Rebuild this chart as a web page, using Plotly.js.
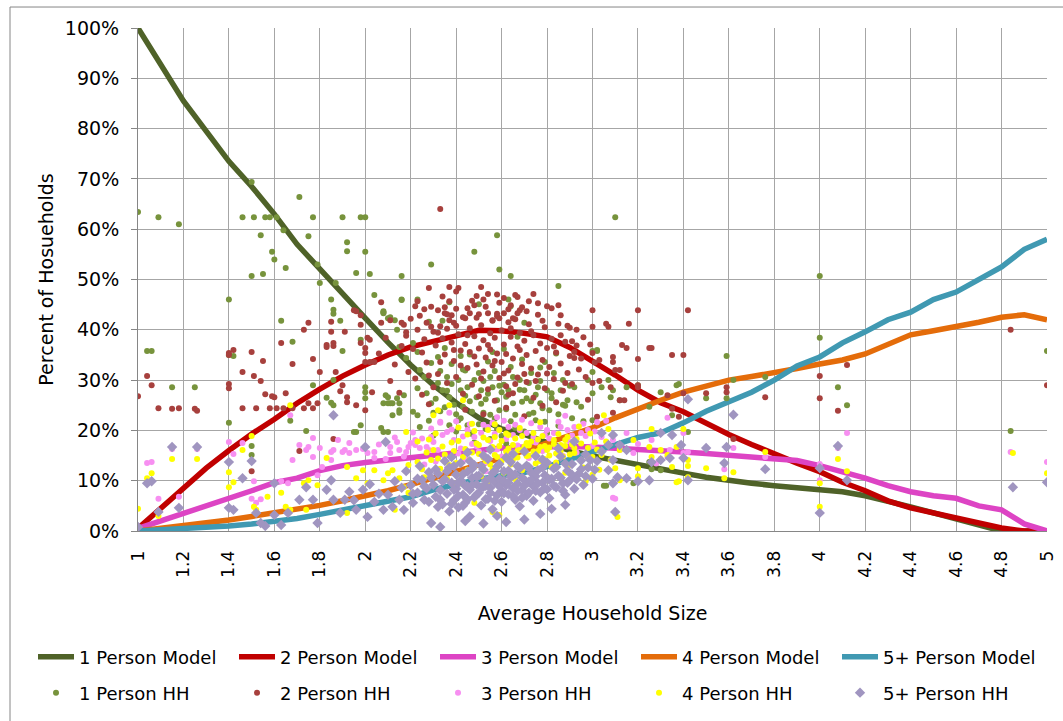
<!DOCTYPE html>
<html>
<head>
<meta charset="utf-8">
<script src="https://cdn.plot.ly/plotly-3.0.1.min.js"></script>
<style>html,body{margin:0;padding:0;background:#fff;}#chart{width:1063px;height:721px;}</style>
</head>
<body>
<div id="chart"></div>
<script>
// ---- Model curves (percent of households by average household size) ----
const modelX = [1.0,1.1,1.2,1.3,1.4,1.5,1.6,1.7,1.8,1.9,2.0,2.1,2.2,2.3,2.4,2.5,2.6,2.7,2.8,2.9,3.0,3.1,3.2,3.3,3.4,3.5,3.6,3.7,3.8,3.9,4.0,4.1,4.2,4.3,4.4,4.5,4.6,4.7,4.8,4.9,5.0];
const model1 = [100,92.5,85.5,79.5,73.5,68.5,63,57,52,47.3,42.3,37.5,33,29,25.5,22.5,20.3,19.2,17.5,16,14.9,14,13.3,12.4,11.5,10.7,10,9.5,9,8.6,8.2,7.8,7,6,4.8,3.6,2.4,1.2,0,0,0];
const model2 = [0.5,4.5,8.5,12.5,16,19.3,22.2,25.4,28.2,30.8,33,35,36.6,37.6,38.8,39.9,39.8,39.3,38.6,36.5,33.8,31,28,25.5,23.7,21.3,19.2,17.2,15.3,13.5,11.8,9.7,8,6,4.6,3.6,2.8,1.8,0.6,0,0];
const model3 = [0.5,2,3.3,5,6.5,8,9.6,10.5,12,13,13.6,14.1,14.5,15.1,15.6,16.1,16.5,16.7,16.8,16.8,16.7,16.5,16.3,16.0,15.7,15.4,15.1,14.8,14.5,14,13,11.8,10.5,9,7.8,7,6.5,5,4.2,1.4,0];
const model4 = [0,0.5,1.0,1.6,2.2,2.9,3.6,4.3,5.1,6.0,6.9,8.0,9.2,10.5,11.8,13,14.5,16,17.5,19,20.5,22.5,24.3,26,27.6,28.8,30,30.7,31.4,32.3,33.2,34,35.2,37,39,39.8,40.6,41.5,42.5,43,42];
const model5 = [0,0.2,0.4,0.7,1.0,1.4,1.9,2.5,3.3,4.2,5.0,5.9,6.8,8.2,9.3,10.3,11.0,11.6,12.8,14.2,15.8,17.2,18.6,19.5,21.5,23.8,25.6,27.6,30,32.8,34.6,37.4,39.6,42,43.5,46,47.5,50,52.5,56,58];

// ---- Observed household shares: [average household size, percent] ----
const hh1 = [[1.0,63.4],[1.09,62.4],[1.18,61],[1.46,62.4],[1.50,69.4],[1.51,62.4],[1.54,58.8],[1.56,62.4],[1.58,62.4],[1.61,62.4],[1.64,59.8],[1.71,66.4],[1.75,58.6],[1.77,62.4],[1.90,62.4],[1.92,57.4],[1.98,62.4],[2.0,62.4],
[1.92,55.6],[1.59,55.5],[1.60,54],[2.0,55.5],[1.65,52.3],[1.50,50.7],[1.55,51.1],[1.79,53],[1.96,51.3],[2.02,51.1],[1.80,49.3],[1.87,49.3],[2.04,46.9],[1.40,46],[1.85,46],[1.86,44],[1.86,43.2],[1.63,41.8],[1.89,41.8],[1.68,37.6],[1.04,35.8],[1.06,35.8],[1.40,35],[1.42,34.8],[1.90,35.8],[1.98,38],[1.15,28.6],[1.25,28.6],[1.77,29],[1.86,30],[1.83,26.5],[1.85,25.5],[1.86,25],[2.0,28.6],[2.0,27.6],[2.0,26.4],
[3.10,62.4],[2.58,58.8],[2.48,55.5],[2.29,53],[2.59,52],[2.64,50.7],[2.16,50.7],[2.85,48.7],[2.08,43.7],[2.08,43.3],[2.10,42.3],[2.16,46],[2.23,46],[2.28,41.6],[2.34,41.8],[2.37,45.5],[2.50,45.1],[2.63,46],[2.64,44.7],[2.70,41.4],[3.0,35.8],[3.02,35.8],[3.0,31.6],[3.30,27.6],[3.38,29.2],[3.20,29],
[4.0,50.7],[4.0,38.4],[3.59,34.8],[3.35,23],[3.50,26.4],[3.59,26.4],[3.62,30],[3.76,30.6],[4.08,28.6],[4.12,25],[3.42,19.7],[4.84,19.9],[5.0,35.8],[3.05,9],[3.26,12.3],
[1.40,21.5],[1.50,15.1],[1.50,16.9],[1.67,21.9],[1.74,19.9],[1.98,21],[1.95,19.7],[1.96,19.7],[2.08,19.7],[2.10,19.7],[2.12,23],[2.15,24],[2.10,25.4],
[2.07,20.5],[2.08,25.4],[2.11,25.4],[2.15,25.4],[2.14,26.4],[2.23,28.4],[2.09,27],[2.21,23.7],[2.23,23],[2.24,20.7],[2.30,19],[2.37,21],[2.41,22],[3.0,22],[3.18,9.5],[3.30,12.1],[3.25,13.7],[3.06,9],[3.37,29],[3.25,24.7],[3.42,10.7],
[2.08,43.5],[2.11,42.5],[2.13,41.9],[2.16,45.9],[2.14,40],[2.15,36.6],[2.18,34.4],[2.21,37.4],[2.23,35.6],[2.24,32],[2.26,30.6],[2.29,33.4],[2.32,34.6],[2.32,29.4],[2.34,28],[2.36,30.6],[2.37,26.6],[2.41,30],[2.42,28],[2.43,24.7],[2.45,28.6],[2.48,30],[2.49,26.6],[2.51,28],[2.52,23.5],[2.55,30.6],[2.56,28.6],[2.58,26],[2.59,24],[2.63,28],[2.65,30.6],[2.65,25.4],[2.67,38.6],[2.68,30],[2.70,28],[2.71,26.4],[2.73,31.4],[2.74,23.5],[2.76,28.6],[2.77,25.4],[2.80,28],[2.81,24],[2.83,31.4],[2.86,28],[2.87,30],[2.89,26],[2.92,28.6],[2.95,24.7],[2.98,30],[3.0,27.4],[3.02,36],[3.04,28.6],[3.07,30],[3.08,26.6],[3.09,28],[3.12,26],[3.15,28.6],[2.10,26.6],[2.12,25.4],[2.15,23.5],[2.17,27],[2.29,25.4],[2.30,23.5],
[2.31,26.3],[2.33,23.8],[2.36,27.9],[2.39,25.1],[2.42,22.4],[2.44,26.9],[2.47,23.7],[2.50,21.2],[2.53,26.2],[2.55,23.1],[2.60,27.6],[2.62,24.2],[2.64,21.8],[2.69,25.7],[2.72,23.2],[2.75,27.1],[2.78,24.4],[2.79,21.7],[2.82,26.4],[2.85,23.2],[2.88,24.9],[2.91,22.4],[2.52,29.8],[2.61,29.1],[2.40,19.8],[2.47,19.3],[2.58,20.3],[2.66,20.5],[2.38,33.2],[2.46,35.1],[2.54,33.7],[2.61,36.2],[2.69,34.1],[2.77,32.5],[2.84,35.3],[2.57,31.8],[2.44,31.9],[2.72,29.4],
[2.27,27.4],[2.28,21.9],[2.33,31.8],[2.35,24.6],[2.38,29.2],[2.40,23.2],[2.43,32.1],[2.45,21.0],[2.46,25.8],[2.50,31.4],[2.51,25.3],[2.53,20.3],[2.54,27.3],[2.57,22.3],[2.59,28.9],[2.60,18.9],[2.62,26.7],[2.64,32.6],[2.66,23.1],[2.68,28.1],[2.70,19.8],[2.73,25.8],[2.75,22.0],[2.77,29.8],[2.80,19.5],[2.82,27.4],[2.85,20.9],[2.87,25.1],[2.90,28.9],[2.93,25.6],[2.96,21.8],[2.55,18.3],[2.48,17.6],[2.62,17.4],[2.42,34.8],[2.56,35.6],[2.79,33.6],[2.35,36.4]];

const hh2 = [[1.0,26.8],[1.04,30.8],[1.06,29],[1.09,24.4],[1.15,24.3],[1.18,24.4],[1.25,24.3],[1.40,35.4],[1.40,35],[1.42,36],[1.40,29.2],[1.40,28.4],[1.46,31.6],[1.50,35.6],[1.51,30.8],[1.55,33.8],[1.54,29.8],[1.56,27.2],[1.59,26.8],[1.60,26.6],[1.46,24.4],[1.52,24.4],[1.58,24.4],[1.61,24.4],[1.64,24.4],[1.68,24.4],[1.73,24.4],[1.77,24.4],[1.63,37.4],[1.65,27.4],[1.68,33.2],[1.73,40],[1.75,41.4],[1.77,34.2],[1.80,31.6],[1.83,37],[1.83,36.6],[1.85,41.6],[1.85,39.6],[1.86,37.4],[1.86,36.8],[1.87,31.6],[1.89,27.8],[1.90,29],[1.91,39.6],[1.92,26.6],[1.92,25.6],[1.95,43.9],[1.96,43.7],[1.98,42.9],[1.98,41],[1.98,37.4],[2.0,36.4],[2.0,35.4],[2.01,38.4],[2.02,38],[2.0,33.6],[2.02,33.6],[2.04,33.6],[2.03,27.6],[2.07,45.5],[2.33,64],[1.26,23.9],[1.71,15.9],[1.86,18.3],[1.50,11.9],[2.0,24],[1.75,25.4],[1.79,25.4],[1.96,25],
[2.28,48.3],[2.37,48.5],[2.41,48.3],[2.51,48.5],[2.54,47.1],[2.52,46],[2.37,45.7],[2.35,44.5],[2.32,43.9],[2.36,43.1],[2.38,42.9],[2.22,44.7],[2.23,45.7],[2.07,41.4],[2.11,41.9],[2.16,41.4],[2.17,41],[2.18,38.8],[2.23,40],[2.27,41.4],[2.29,40.6],[2.30,39.6],[2.32,39.4],[2.35,43.3],[2.39,41.4],[2.40,40.8],[2.44,42.3],[2.45,44.3],[2.46,43.3],[2.48,44.9],[2.50,43.1],[2.54,43.3],[2.56,41.9],[2.58,42.7],[2.59,42.3],[2.61,43.3],[2.63,44.1],[2.64,44.9],[2.65,42.3],[2.67,43.3],[2.68,43.9],[2.71,43.7],[2.74,47.1],[2.76,45.3],[2.80,44.7],[2.85,44.9],[2.86,42.9],[2.89,40.8],[2.90,40.4],[2.93,40],[3.0,43.9],[3.0,40.6],[3.06,41.2],[3.07,40.6],[3.16,41.2],[3.20,43.9],[3.20,34.2],[3.25,36.4],[3.26,36.4],[3.35,35],[3.40,35],[3.42,43.9],[3.13,37],[3.15,36.4],[3.09,34.6],[3.09,33.6],[3.10,32],[3.12,32],[3.20,28.6],[3.0,35.4],[3.03,34],[2.92,34.4],[2.92,35.6],[2.67,46.5],
[3.33,27],[3.35,24.3],[3.38,22.7],[3.50,27.4],[3.59,28.6],[3.59,27.6],[3.76,26.6],[4.0,30.8],[4.0,26.4],[4.12,33],[4.08,23.9],[4.84,40],[5.0,29],[3.62,18.3],[3.0,29.4],[3.08,28.6],[3.20,29],[3.40,27.4],[3.12,26],[3.14,26],[3.02,22.7],[3.09,23.5],
[2.18,39.5],[2.21,36.2],[2.24,42.8],[2.26,38.1],[2.27,33.5],[2.29,44.6],[2.31,36.9],[2.32,31.2],[2.33,40.7],[2.34,38.3],[2.35,35.1],[2.36,29.4],[2.37,41.9],[2.38,37.5],[2.39,33.8],[2.40,44.2],[2.40,30.6],[2.41,39.1],[2.42,35.9],[2.43,42.5],[2.43,27.3],[2.44,37.2],[2.45,32.4],[2.46,40.3],[2.46,35.6],[2.47,45.8],[2.47,29.1],[2.48,38.7],[2.49,33.1],[2.49,42.4],[2.50,36.3],[2.50,26.8],[2.51,40.9],[2.52,31.7],[2.52,37.9],[2.53,44.6],[2.53,34.5],[2.54,28.2],[2.55,39.3],[2.55,36.1],[2.56,41.8],[2.56,32.9],[2.57,38.4],[2.57,25.9],[2.58,35.3],[2.58,43.2],[2.59,30.4],[2.60,39.9],[2.60,33.6],[2.61,37.1],[2.61,46.3],[2.62,28.8],[2.62,35.2],[2.63,41.5],[2.63,31.9],[2.64,38.6],[2.65,34.3],[2.65,27.4],[2.66,42.1],[2.67,36.7],[2.67,30.5],[2.68,39.4],[2.69,33.2],[2.69,44.5],[2.70,37.8],[2.71,29.6],[2.71,35.0],[2.72,41.1],[2.73,32.3],[2.74,38.9],[2.74,26.5],[2.75,35.8],[2.76,43.0],[2.76,31.1],[2.77,37.3],[2.78,34.0],[2.79,40.5],[2.79,28.4],[2.80,36.4],[2.81,32.6],[2.82,38.2],[2.83,30.2],[2.84,35.5],[2.85,41.2],[2.86,33.3],[2.87,27.9],[2.88,37.6],[2.89,31.4],[2.90,34.8],[2.91,29.2],[2.93,36.9],[2.94,32.1],[2.96,38.5],[2.97,30.6],[2.98,26.1],[3.01,33.5],[3.03,29.8],[2.22,30.3],[2.25,27.1],[2.28,25.2],[2.30,28.6],[2.44,24.1],[2.52,23.2],[2.62,24.5],[2.70,22.8],[2.78,24.9],[2.84,25.6],[2.13,33.1],[2.16,36.8],[2.19,31.6],[2.11,29.8],[2.06,35.3],[2.09,38.4],[2.15,27.5],[2.40,47.6],[2.58,47.0],[2.66,46.9],[2.72,45.7],[2.82,44.3],
[2.20,42.2],[2.25,35.5],[2.28,30.9],[2.33,33.6],[2.36,40.2],[2.39,36.0],[2.42,32.9],[2.45,38.9],[2.48,34.7],[2.51,30.3],[2.54,37.0],[2.57,33.8],[2.59,45.4],[2.61,31.3],[2.64,40.3],[2.66,29.2],[2.68,36.0],[2.70,31.2],[2.73,39.7],[2.75,29.8],[2.78,41.8],[2.80,31.3],[2.83,36.7],[2.86,38.9],[2.88,29.4],[2.91,37.7],[2.95,34.3],[2.99,37.1],[2.26,44.1],[2.34,46.6],[2.49,46.7],[2.63,27.1]];

const hh3 = [[1.04,13.5],[1.06,13.7],[1.09,6.4],[1.15,16.3],[1.18,6.8],[1.26,16.3],[1.40,17.7],[1.46,17.5],[1.42,15.3],[1.51,9.9],[1.50,6.4],[1.52,5.6],[1.54,6.3],[1.63,9.9],[1.66,9.5],[1.67,23],[1.68,14.1],[1.75,16.7],[1.77,14.7],[1.79,11.1],[1.81,12.7],[1.85,14.1],[1.86,16.1],[1.88,18.1],[1.91,16.1],[1.93,15.5],[1.96,16.1],[1.99,16.3],[2.01,15.5],[2.04,14.5],[2.11,15.5],[2.15,16.1],[2.19,16.7],[2.20,17.5],[2.22,18.1],[2.24,16.5],[2.29,18.7],[2.30,17.7],[2.28,16.1],[2.33,21.7],[2.36,19.7],[1.71,17.1],[1.74,16.1],[1.77,18.5],[1.80,16.5],[1.85,15.7],[1.90,15.7],[1.93,17.5],[2.04,15.7],[2.11,16.7],[2.14,17.7],[2.18,15.7],[2.22,17.1],[2.27,16.7],[2.33,21.5],[2.37,23.5],[2.39,18.1],
[2.45,20.1],[2.48,18.7],[2.51,19.5],[2.54,20.7],[2.56,21.5],[2.59,20.1],[2.63,20.7],[2.65,19.1],[2.68,20.1],[2.71,19.5],[2.74,18.7],[2.77,20.7],[2.80,20.1],[2.83,19.5],[2.86,20.7],[2.89,20.1],[2.92,20.7],[2.95,19.5],[2.98,20.1],[3.04,18.7],[3.09,18.1],[3.12,16.1],[3.18,15.5],[3.26,18.1],[3.33,14.7],[3.40,15.5],
[2.42,16.4],[2.44,14.2],[2.47,17.3],[2.50,15.8],[2.53,13.6],[2.55,17.9],[2.58,16.2],[2.60,14.8],[2.62,18.3],[2.64,15.4],[2.67,17.0],[2.70,16.3],[2.72,14.5],[2.75,17.6],[2.78,15.9],[2.81,18.4],[2.84,16.7],[2.87,14.9],[2.90,17.8],[2.93,15.6],[2.97,18.9],[3.00,16.9],[3.02,21.6],[2.35,14.9],[2.31,13.8],[2.26,13.2],[2.40,21.8],[2.58,22.6],[2.69,22.1],[2.88,22.9],
[3.09,6.6],[3.10,6.4],[3.12,16.7],[3.15,19.5],[3.33,22.5],[3.34,16.1],[3.40,19.5],[3.42,15.7],[3.62,16.5],[3.58,12.3],[3.76,14.7],[4.0,13.3],[4.0,10.1],[4.08,16.5],[4.12,19.5],[4.84,15.7],[5.0,13.7],[3.06,21.9],[3.20,17.3],[3.28,13.4],
[2.06,17.2],[2.09,14.3],[2.13,18.6],[2.17,14.8],[2.21,19.6],[2.25,18.4],[2.29,20.4],[2.32,16.1],[2.34,19.1],[2.38,20.2],[2.41,15.4],[2.43,18.8],[2.46,21.2],[2.49,16.9],[2.52,21.1],[2.57,19.3],[2.61,21.9],[2.66,21.1],[2.73,21.4],[2.79,19.1],[2.85,21.7],[2.91,19.0],[2.96,21.3],[3.01,19.8],[2.53,11.9],[2.71,12.6],[2.36,12.4]];

const hh4 = [[1.0,4.4],[1.04,10.5],[1.06,11.5],[1.09,3],[1.15,14.3],[1.26,14.3],[1.40,11.7],[1.40,8.7],[1.42,9.7],[1.46,16.1],[1.50,18.9],[1.51,4.8],[1.52,4.2],[1.57,6.8],[1.63,7.6],[1.65,4.8],[1.67,4.2],[1.67,25],[1.73,9.5],[1.75,10.1],[1.79,9.1],[1.83,14.5],[1.92,12.7],[1.96,10.5],[1.99,12.1],[2.01,9.5],[2.04,12.1],[2.08,10.1],[2.10,11.5],[2.12,12.1],[2.15,10.5],[2.17,8.7],[2.19,13.1],[2.23,13.7],[2.26,10.7],[2.29,14.1],[2.30,16.1],[2.18,19.7],[2.30,23],[2.32,24],[1.92,3.6],[1.74,4.2],
[2.37,25],[2.43,26],[2.54,20.1],[2.56,16.7],[2.57,18.7],[2.59,20.1],[2.63,19.1],[2.65,17.1],[2.68,16.1],[2.71,17.5],[2.74,19.5],[2.77,16.7],[2.80,16.1],[2.83,18.1],[2.86,17.1],[2.89,18.7],[2.92,15.5],[2.95,14.1],[2.98,16.5],[3.0,14.7],[3.04,15.1],[3.08,14.1],[3.18,18.1],[3.26,14.7],[3.30,16.1],[3.37,16.7],[3.42,14.1],[3.37,9.7],[3.10,3.6],[3.11,2.8],[2.48,5.6],[2.56,3.8],[2.59,3.2],[2.13,4.2],[2.19,7.6],
[2.33,12.4],[2.35,15.2],[2.38,17.6],[2.40,13.5],[2.42,11.2],[2.44,16.3],[2.45,19.2],[2.46,14.1],[2.48,12.8],[2.49,17.4],[2.50,15.3],[2.51,10.9],[2.52,18.6],[2.53,13.9],[2.55,16.2],[2.56,12.3],[2.58,14.7],[2.60,17.9],[2.61,11.6],[2.62,15.8],[2.64,13.2],[2.66,18.4],[2.67,14.6],[2.69,12.1],[2.70,16.8],[2.72,15.0],[2.73,17.8],[2.75,13.4],[2.76,15.9],[2.78,18.9],[2.79,14.3],[2.81,16.6],[2.82,12.7],[2.84,15.4],[2.85,19.3],[2.87,14.8],[2.88,16.9],[2.90,13.1],[2.91,17.2],[2.93,18.3],[2.96,12.6],[2.99,19.4],[3.01,17.6],[3.03,12.2],[2.36,10.4],[2.41,20.6],[2.47,21.3],[2.57,21.2],[2.68,20.5],[2.77,21.6],[2.94,20.8],[2.23,17.8],[2.27,15.6],[2.31,19.4],[2.39,8.9],[2.54,9.6],[2.66,10.3],[2.80,10.8],[2.97,9.9],
[3.05,23],[3.07,20.3],[3.12,16.1],[3.10,12.5],[3.12,10.1],[3.20,12.5],[3.20,10.9],[3.25,16.7],[3.26,20.3],[3.30,14.3],[3.33,15.1],[3.35,12.7],[3.38,9.9],[3.40,20.3],[3.42,12.9],[3.42,10.7],[3.50,12.5],[3.58,10.5],[3.62,11.7],[3.76,15.7],[4.0,9.5],[4.0,4.8],[4.08,14.3],[4.12,11.9],[4.85,15.5],[5.0,11.5],
[2.25,12.3],[2.28,18.2],[2.32,14.4],[2.34,16.8],[2.37,13.1],[2.39,15.9],[2.41,17.9],[2.43,14.7],[2.45,12.2],[2.47,15.6],[2.48,19.9],[2.50,17.1],[2.52,14.6],[2.54,18.1],[2.55,13.2],[2.57,15.1],[2.59,16.9],[2.60,13.9],[2.62,19.4],[2.63,16.4],[2.65,14.2],[2.67,16.0],[2.69,18.9],[2.71,14.9],[2.72,17.0],[2.74,15.8],[2.76,18.2],[2.77,13.9],[2.79,16.9],[2.81,15.0],[2.83,17.3],[2.84,13.6],[2.86,15.9],[2.88,18.1],[2.90,15.2],[2.92,16.5],[2.95,17.4],[2.98,14.6],[3.02,16.2],[3.06,17.8],[2.42,9.5],[2.60,10.2],[2.74,11.3],[2.88,11.6],[3.00,11.2]];

const hh5 = [[1.0,0.8],[1.04,9.5],[1.06,9.9],[1.09,3.8],[1.15,16.7],[1.18,4.6],[1.26,16.7],[1.40,13.7],[1.40,4.6],[1.42,4.2],[1.46,10.5],[1.50,13.9],[1.52,3.6],[1.54,1.6],[1.56,1],[1.60,9.5],[1.60,3.2],[1.63,1.2],[1.66,3.6],[1.71,6.2],[1.74,8.7],[1.77,6.2],[1.79,1.6],[1.83,8.2],[1.85,10.1],[1.86,6.2],[1.89,3.6],[1.91,6.2],[1.93,7.8],[1.96,4.2],[1.99,8.2],[2.01,2.8],[2.04,5.8],[2.08,4.2],[2.10,7.2],[2.12,4.8],[2.15,6.2],[2.17,4.2],[2.21,5.6],[2.23,7.6],[2.26,6.2],[2.29,1.6],[2.32,4.8],[2.33,0.8],[1.86,23],[2.0,16.7],[2.09,17.7],
[2.30,9.2],[2.31,6.8],[2.32,11.4],[2.33,8.1],[2.34,5.3],[2.35,10.3],[2.36,7.4],[2.37,12.6],[2.37,3.9],[2.38,9.6],[2.39,6.1],[2.40,11.2],[2.40,8.4],[2.41,4.7],[2.42,10.1],[2.42,13.5],[2.43,7.2],[2.44,9.0],[2.44,5.6],[2.45,11.8],[2.46,8.2],[2.46,2.9],[2.47,10.6],[2.48,6.7],[2.48,13.1],[2.49,9.3],[2.50,7.6],[2.50,11.0],[2.51,5.1],[2.52,8.8],[2.52,12.2],[2.53,10.0],[2.54,6.4],[2.54,14.3],[2.55,8.6],[2.56,11.5],[2.56,4.3],[2.57,9.7],[2.58,7.1],[2.58,12.8],[2.59,10.4],[2.60,8.0],[2.60,5.8],[2.61,11.9],[2.62,9.1],[2.62,1.8],[2.63,7.3],[2.64,10.8],[2.64,13.7],[2.65,8.5],[2.66,6.2],[2.66,11.3],[2.67,9.4],[2.68,12.5],[2.68,4.9],[2.69,8.1],[2.70,10.2],[2.71,7.0],[2.71,13.0],[2.72,9.8],[2.73,11.6],[2.74,6.0],[2.74,8.9],[2.75,10.9],[2.76,12.1],[2.77,7.7],[2.77,3.4],[2.78,9.6],[2.79,11.1],[2.80,8.3],[2.80,13.6],[2.81,6.5],[2.82,10.4],[2.83,12.4],[2.84,8.7],[2.85,11.0],[2.86,14.8],[2.87,9.5],[2.88,7.2],[2.89,12.0],[2.90,10.1],[2.91,13.3],[2.92,8.4],[2.94,11.4],[2.95,14.0],[2.96,9.2],[2.98,12.6],[3.00,10.4],[3.02,13.9],[3.04,15.8],[2.27,8.5],[2.28,11.7],[2.25,10.2],[2.24,12.9],[2.20,9.1],[2.18,11.9],[2.35,13.9],[2.45,15.6],[2.55,16.2],[2.65,15.3],[2.75,14.9],[2.85,16.4],[2.92,17.8],[2.97,15.2],[2.44,2.0],[2.52,1.5],[2.58,3.0],[2.70,2.3],[2.82,4.4],[2.88,5.2],
[3.09,19.1],[3.07,17.1],[3.12,17.1],[3.15,16.1],[3.09,14.1],[3.07,12.1],[3.11,10.7],[3.09,9.5],[3.15,10.5],[3.20,9.9],[3.25,10.1],[3.26,13.7],[3.30,19.5],[3.34,14.5],[3.35,19.1],[3.39,17.1],[3.42,10.1],[3.50,16.5],[3.58,13.5],[3.62,23.1],[3.76,12.3],[4.0,12.5],[4.0,3.6],[4.08,16.9],[4.12,10.1],[4.85,8.7],[5.0,9.7],[3.10,3.8],[3.42,26.2],[3.59,16.7],[3.30,14.1],[3.40,14.5],[3.04,19.5],
[2.29,10.6],[2.31,12.3],[2.33,6.2],[2.34,9.9],[2.36,11.9],[2.38,5.4],[2.39,8.2],[2.39,12.9],[2.41,9.6],[2.41,7.0],[2.43,11.3],[2.43,5.0],[2.45,8.9],[2.45,6.3],[2.47,9.1],[2.47,12.4],[2.49,7.2],[2.49,10.9],[2.51,8.7],[2.51,12.9],[2.53,6.3],[2.53,9.0],[2.55,10.5],[2.55,7.6],[2.57,11.9],[2.57,6.0],[2.59,8.9],[2.59,13.3],[2.61,7.5],[2.61,10.0],[2.63,12.0],[2.63,9.6],[2.65,11.0],[2.65,6.9],[2.67,8.0],[2.67,12.9],[2.69,10.6],[2.69,6.6],[2.70,9.0],[2.72,7.6],[2.72,12.7],[2.73,10.1],[2.75,8.0],[2.76,9.5],[2.78,12.6],[2.79,8.5],[2.81,10.2],[2.83,9.0],[2.84,12.7],[2.86,10.6],[2.87,8.0],[2.89,9.6],[2.91,11.2],[2.93,10.3],[2.95,12.3],[2.97,10.9],[2.99,14.1],[3.01,12.2],[2.21,7.4],[2.23,10.4],[2.26,8.9],[2.28,5.8],[2.16,8.6],[2.13,9.9],[2.06,7.4],[2.02,9.3],[1.95,6.1],[2.46,13.9],[2.62,14.6],[2.78,14.2],[2.38,14.7],[2.52,15.0],[2.70,15.8],[2.88,13.4]];

// ---- Axis ticks ----
const xTickVals = [1,1.2,1.4,1.6,1.8,2,2.2,2.4,2.6,2.8,3,3.2,3.4,3.6,3.8,4,4.2,4.4,4.6,4.8,5];
const xTickText = ['1','1.2','1.4','1.6','1.8','2','2.2','2.4','2.6','2.8','3','3.2','3.4','3.6','3.8','4','4.2','4.4','4.6','4.8','5'];

const modelNames = ['1 Person Model','2 Person Model','3 Person Model','4 Person Model','5+ Person Model'];
const hhNames = ['1 Person HH','2 Person HH','3 Person HH','4 Person HH','5+ Person HH'];
const modelColors = ['#4F6228','#C00000','#DD44C4','#E46C0A','#4099B2'];
const hhColors = ['#77933C','#A7403D','#F78FF1','#FFFF00','#A095C0'];

const FONT = 'DejaVu Sans, Verdana, sans-serif';
const models = [model1, model2, model3, model4, model5];
const hhs = [hh1, hh2, hh3, hh4, hh5];

const traces = [];
models.forEach((m, i) => {
  traces.push({
    type: 'scatter', mode: 'lines', name: modelNames[i], x: modelX, y: m,
    line: {color: modelColors[i], width: 5.5}, legend: 'legend', hoverinfo: 'skip'
  });
});
hhs.forEach((pts, i) => {
  traces.push({
    type: 'scatter', mode: 'markers', name: hhNames[i],
    x: pts.map(p => p[0]), y: pts.map(p => p[1]),
    marker: {color: hhColors[i], size: i === 4 ? 8 : 6, symbol: i === 4 ? 'diamond' : 'circle', line: {width: 0}},
    legend: 'legend2', hoverinfo: 'skip'
  });
});

const legendBase = {
  orientation: 'h', x: -0.1155, xanchor: 'left', yanchor: 'middle',
  entrywidth: 150, entrywidthmode: 'pixels', itemwidth: 36,
  font: {family: FONT, size: 18, color: '#000'}, bgcolor: 'rgba(0,0,0,0)', borderwidth: 0,
  traceorder: 'normal', itemclick: false, itemdoubleclick: false
};

const layout = {
  width: 1063, height: 721,
  margin: {l: 138, r: 16, t: 28, b: 190, pad: 0, autoexpand: false},
  paper_bgcolor: '#ffffff', plot_bgcolor: '#ffffff',
  font: {family: FONT, size: 17, color: '#000'},
  showlegend: true,
  legend: Object.assign({}, legendBase, {y: -0.2505}),
  legend2: Object.assign({}, legendBase, {y: -0.322}),
  xaxis: {
    range: [1, 5], tickmode: 'array', tickvals: xTickVals, ticktext: xTickText,
    tickangle: -90, tickfont: {family: FONT, size: 17, color: '#000'},
    showgrid: true, gridcolor: '#A6A6A6', gridwidth: 1,
    showline: true, linecolor: '#868686', linewidth: 1,
    ticks: '', ticklabelstandoff: 12, zeroline: false, automargin: false,
    title: {text: 'Average Household Size', font: {family: FONT, size: 19, color: '#000'}, standoff: 29}
  },
  yaxis: {
    range: [0, 100], dtick: 10, tick0: 0, ticksuffix: '%',
    tickfont: {family: FONT, size: 19, color: '#000'},
    showgrid: true, gridcolor: '#A6A6A6', gridwidth: 1,
    showline: true, linecolor: '#868686', linewidth: 1,
    ticks: 'outside', ticklen: 6, tickcolor: '#868686', ticklabelstandoff: 8,
    zeroline: false, automargin: false,
    title: {text: 'Percent of Hosueholds', font: {family: FONT, size: 19, color: '#000'}, standoff: 6}
  },
  shapes: [{
    type: 'rect', xref: 'paper', yref: 'paper',
    x0: -0.1408, x1: 1.03, y0: -0.42, y1: 1.0417,
    line: {color: '#868686', width: 1}, fillcolor: 'rgba(0,0,0,0)', layer: 'above'
  }]
};

Plotly.newPlot('chart', traces, layout, {displayModeBar: false, staticPlot: true});
</script>
</body>
</html>
